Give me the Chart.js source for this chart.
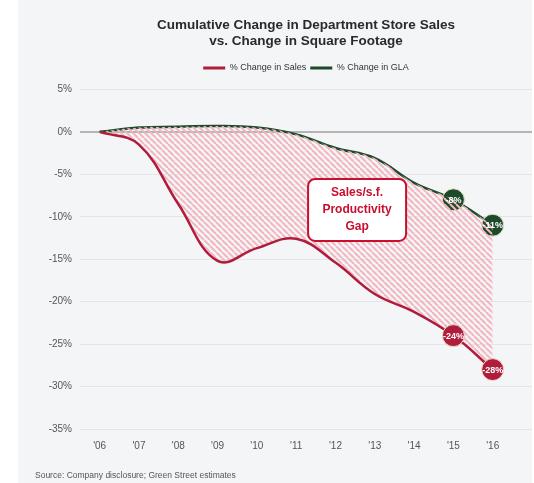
<!DOCTYPE html>
<html>
<head>
<meta charset="utf-8">
<script src="https://cdn.jsdelivr.net/npm/chart.js@4.4.0/dist/chart.umd.min.js"></script>
<style>
  html, body { margin: 0; padding: 0; background: #fff; }
  canvas { display: block; }
</style>
</head>
<body>
<canvas id="gap" width="534" height="483"></canvas>
<script>
// cumulative % change since 2006
var years = [2006, 2007, 2008, 2009, 2010, 2011, 2012, 2013, 2014, 2015, 2016];
var yearLabels = ["'06", "'07", "'08", "'09", "'10", "'11", "'12", "'13", "'14", "'15", "'16"];
var salesChange = [0, -1.5, -8.5, -15.2, -13.7, -12.6, -15.4, -19.1, -21.2, -24, -28];
var glaChange = [0, 0.5, 0.6, 0.7, 0.5, -0.3, -1.9, -3.1, -6, -8, -11];
var yTicks = [5, 0, -5, -10, -15, -20, -25, -30, -35];
var labelledYears = [2015, 2016];

var RED = '#b01c3c';
var GREEN = '#1d4a2a';
var FONT = '"Liberation Sans", Arial, Helvetica, sans-serif';

var ctx = document.getElementById('gap').getContext('2d');

function hatch() {
  var c = document.createElement('canvas');
  c.width = 6; c.height = 6;
  var g = c.getContext('2d');
  g.strokeStyle = '#f2b7c0';
  g.lineWidth = 2;
  g.beginPath();
  [-6, 0, 6].forEach(function (o) { g.moveTo(o, 0); g.lineTo(o + 6, 6); });
  g.stroke();
  return ctx.createPattern(c, 'repeat');
}

function toPoints(vals) {
  return years.map(function (y, i) { return { x: y, y: vals[i] }; });
}

function markRadius(c) {
  return labelledYears.indexOf(years[c.dataIndex]) >= 0 ? 11 : 0;
}

var panel = {
  id: 'panel',
  beforeDraw: function (chart) {
    var c = chart.ctx;
    c.save();
    c.fillStyle = '#f4f5f7';
    c.fillRect(18, 0, 514, chart.height);
    c.restore();
  }
};

// keep some air between the legend and the plot
var legendGap = {
  id: 'legendGap',
  beforeLayout: function (chart) {
    var lg = chart.legend;
    if (lg && !lg._gapped) {
      var fit = lg.fit;
      lg.fit = function () { fit.call(this); this.height += 7; };
      lg._gapped = true;
    }
  }
};

var pointLabels = {
  id: 'pointLabels',
  afterDatasetsDraw: function (chart) {
    var c = chart.ctx;
    c.save();
    c.fillStyle = '#fff';
    c.font = 'bold 9px ' + FONT;
    c.textAlign = 'center';
    c.textBaseline = 'middle';
    chart.data.datasets.forEach(function (ds, d) {
      var meta = chart.getDatasetMeta(d);
      ds.data.forEach(function (p, i) {
        if (labelledYears.indexOf(p.x) < 0) return;
        var el = meta.data[i];
        c.fillText(Math.round(p.y) + '%', el.x, el.y + 0.5);
      });
    });
    c.restore();
  }
};

var gapNote = {
  id: 'gapNote',
  afterDatasetsDraw: function (chart, args, o) {
    var c = chart.ctx;
    var cx = chart.scales.x.getPixelForValue(o.x);
    var cy = chart.scales.y.getPixelForValue(o.y);
    var w = o.width, h = o.height, r = 7;
    var x0 = cx - w / 2, y0 = cy - h / 2;
    c.save();
    c.beginPath();
    c.moveTo(x0 + r, y0);
    c.arcTo(x0 + w, y0, x0 + w, y0 + h, r);
    c.arcTo(x0 + w, y0 + h, x0, y0 + h, r);
    c.arcTo(x0, y0 + h, x0, y0, r);
    c.arcTo(x0, y0, x0 + w, y0, r);
    c.closePath();
    c.fillStyle = '#fff';
    c.fill();
    c.lineWidth = 2;
    c.strokeStyle = '#c8102e';
    c.stroke();
    c.fillStyle = '#c8102e';
    c.font = 'bold 12px ' + FONT;
    c.textAlign = 'center';
    c.textBaseline = 'middle';
    o.lines.forEach(function (t, i) {
      c.fillText(t, cx, cy + (i - (o.lines.length - 1) / 2) * 17);
    });
    c.restore();
  }
};

var sourceNote = {
  id: 'sourceNote',
  afterDraw: function (chart, args, o) {
    var c = chart.ctx;
    c.save();
    c.fillStyle = '#555';
    c.font = '8.5px ' + FONT;
    c.textBaseline = 'middle';
    c.fillText(o.text, 35, 476);
    c.restore();
  }
};

new Chart(ctx, {
  type: 'line',
  data: {
    datasets: [{
      label: '% Change in Sales',
      data: toPoints(salesChange),
      borderColor: RED,
      backgroundColor: hatch(),
      borderWidth: 2.5,
      fill: '+1',
      tension: 0.4,
      pointRadius: markRadius,
      pointHoverRadius: markRadius,
      pointBackgroundColor: RED,
      pointBorderColor: '#efe4cc',
      pointBorderWidth: 1
    }, {
      label: '% Change in GLA',
      data: toPoints(glaChange),
      borderColor: GREEN,
      backgroundColor: GREEN,
      borderWidth: 2.5,
      fill: false,
      tension: 0.4,
      pointRadius: markRadius,
      pointHoverRadius: markRadius,
      pointBackgroundColor: GREEN,
      pointBorderColor: '#efe4cc',
      pointBorderWidth: 1
    }]
  },
  options: {
    responsive: false,
    animation: false,
    layout: { autoPadding: false, padding: { left: 35, right: 2, top: 0, bottom: 24 } },
    scales: {
      x: {
        type: 'linear',
        min: 2005.5,
        max: 2017,
        afterBuildTicks: function (s) { s.ticks = years.map(function (v) { return { value: v }; }); },
        afterFit: function (s) { s.height = 30; s.paddingLeft = 0; s.paddingRight = 0; },
        grid: { display: false },
        border: { display: false },
        ticks: {
          padding: 3,
          color: '#555',
          font: { family: FONT, size: 10 },
          maxRotation: 0,
          callback: function (v) { return yearLabels[years.indexOf(v)]; }
        }
      },
      y: {
        min: -35,
        max: 5,
        afterBuildTicks: function (s) { s.ticks = yTicks.map(function (v) { return { value: v }; }); },
        afterFit: function (s) { s.width = 45; },
        border: { display: false },
        grid: {
          drawTicks: false,
          color: function (c) { return c.tick && c.tick.value === 0 ? '#b4b4b4' : '#e3e5e9'; },
          lineWidth: function (c) { return c.tick && c.tick.value === 0 ? 2 : 1; }
        },
        ticks: {
          padding: 8,
          color: '#555',
          font: { family: FONT, size: 10 },
          callback: function (v) { return v + '%'; }
        }
      }
    },
    plugins: {
      title: {
        display: true,
        fullSize: false,
        text: ['Cumulative Change in Department Store Sales', 'vs. Change in Square Footage'],
        color: '#2a2a2a',
        font: { family: FONT, size: 13.5, weight: 'bold', lineHeight: 1.2 },
        padding: { top: 17, bottom: 10 }
      },
      legend: {
        display: true,
        fullSize: false,
        labels: {
          boxWidth: 22,
          boxHeight: 3,
          padding: 4,
          color: '#333',
          font: { family: FONT, size: 9 },
          generateLabels: function (chart) {
            return Chart.defaults.plugins.legend.labels.generateLabels(chart).map(function (it) {
              it.fillStyle = it.strokeStyle;
              it.lineWidth = 0;
              return it;
            });
          }
        }
      },
      tooltip: { enabled: false },
      gapNote: { x: 2012.55, y: -9.2, width: 98, height: 62, lines: ['Sales/s.f.', 'Productivity', 'Gap'] },
      sourceNote: { text: 'Source: Company disclosure; Green Street estimates' }
    }
  },
  plugins: [panel, legendGap, pointLabels, gapNote, sourceNote]
});
</script>
</body>
</html>
